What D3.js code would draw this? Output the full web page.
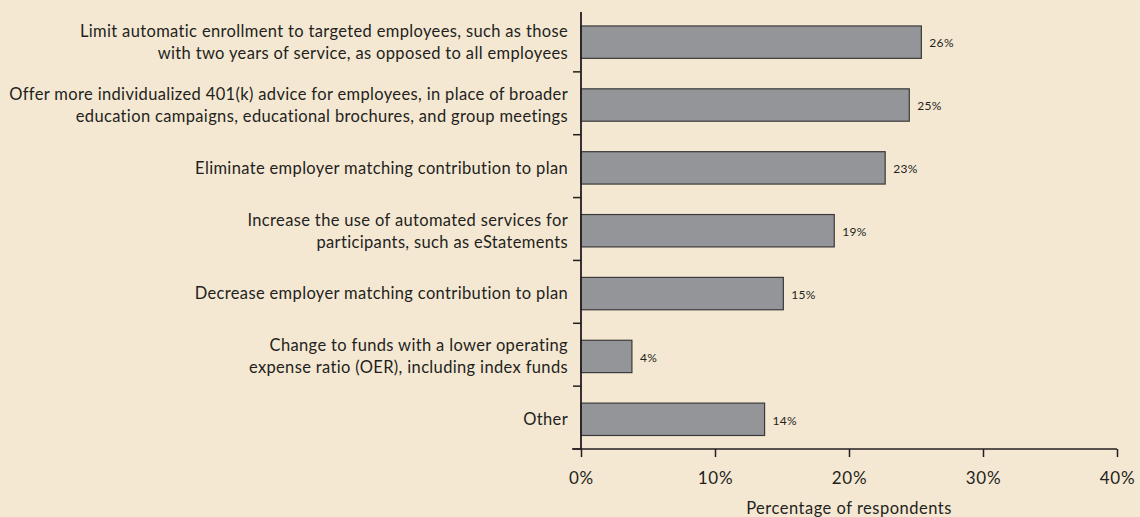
<!DOCTYPE html>
<html>
<head>
<meta charset="utf-8">
<script src="https://cdn.jsdelivr.net/npm/d3@7"></script>
<style>
  html, body { margin: 0; padding: 0; background: #f5e8d3; }
  svg { display: block; }
  text { font-family: Lato, "Open Sans", sans-serif; fill: #231f20; }
</style>
</head>
<body>
<svg id="chart" width="1140" height="517"></svg>
<script>
// Categories (each entry is the list of label lines)
const categories = [
  ["Limit automatic enrollment to targeted employees, such as those", "with two years of service, as opposed to all employees"],
  ["Offer more individualized 401(k) advice for employees, in place of broader", "education campaigns, educational brochures, and group meetings"],
  ["Eliminate employer matching contribution to plan"],
  ["Increase the use of automated services for", "participants, such as eStatements"],
  ["Decrease employer matching contribution to plan"],
  ["Change to funds with a lower operating", "expense ratio (OER), including index funds"],
  ["Other"]
];
// Bar lengths as read against the axis (percent)
const values = [25.4, 24.5, 22.7, 18.9, 15.1, 3.8, 13.7];
// Printed value labels
const valueLabels = ["26%", "25%", "23%", "19%", "15%", "4%", "14%"];
// Axis
const xTicks = [0, 10, 20, 30, 40];
const xTitle = "Percentage of respondents";

const svg = d3.select("#chart");
const W = 1140, H = 517;
svg.append("rect").attr("width", W).attr("height", H).attr("fill", "#f5e8d3");

const x = d3.scaleLinear().domain([0, 40]).range([581, 1117]);
const idx = d3.range(categories.length);
const y = d3.scaleBand().domain(idx).range([9, 449]).paddingInner(0).paddingOuter(0);
const bw = y.bandwidth();
const barOff = bw * 0.27, barH = bw * 0.515;

// Bars
svg.append("g").selectAll("rect").data(idx).join("rect")
  .attr("x", x(0))
  .attr("y", i => y(i) + barOff)
  .attr("width", i => x(values[i]) - x(0))
  .attr("height", barH)
  .attr("fill", "#939598")
  .attr("stroke", "#3a3a3a")
  .attr("stroke-width", 1.2);

// Value labels
svg.append("g").selectAll("text").data(idx).join("text")
  .attr("x", i => x(values[i]) + 8)
  .attr("y", i => y(i) + barOff + barH / 2 + 1)
  .attr("dy", "0.35em")
  .attr("font-size", 12)
  .attr("letter-spacing", "0.3px")
  .text(i => valueLabels[i]);

// Category labels
const lineH = 22;
const catG = svg.append("g");
idx.forEach(i => {
  const lines = categories[i];
  const cy = y(i) + barOff + barH / 2;
  const t = catG.append("text")
    .attr("text-anchor", "end")
    .attr("font-size", 16.5)
    .attr("letter-spacing", "0.35px");
  lines.forEach((ln, k) => {
    t.append("tspan")
      .attr("x", 568)
      .attr("y", cy + (k - (lines.length - 1) / 2) * lineH)
      .attr("dy", "0.35em")
      .text(ln);
  });
});

// Y axis line and ticks at band boundaries
const yAxisG = svg.append("g");
yAxisG.append("line")
  .attr("x1", x(0)).attr("x2", x(0))
  .attr("y1", 12).attr("y2", 449)
  .attr("stroke", "#231f20").attr("stroke-width", 1.8);
yAxisG.selectAll("line.tk").data(idx).join("line")
  .attr("class", "tk")
  .attr("x1", x(0) - 8).attr("x2", x(0))
  .attr("y1", i => y(i) + bw).attr("y2", i => y(i) + bw)
  .attr("stroke", "#231f20").attr("stroke-width", 1.5);

// X axis
const xAxis = d3.axisBottom(x).tickValues(xTicks).tickFormat(d => d + "%").tickSize(8).tickSizeOuter(0).tickPadding(15);
const xg = svg.append("g").attr("transform", "translate(0,449)").call(xAxis);
xg.select(".domain").attr("stroke", "#231f20").attr("stroke-width", 1.6)
  .attr("d", `M${x(0) - 9},0H${x(40)}`);
xg.selectAll(".tick line").attr("stroke", "#231f20").attr("stroke-width", 1.5);
xg.selectAll(".tick text").attr("font-size", 17).attr("letter-spacing", "0.8px")
  .attr("font-family", "Lato, 'Open Sans', sans-serif").attr("fill", "#231f20");

svg.append("text")
  .attr("x", (x(0) + x(40)) / 2)
  .attr("y", 514)
  .attr("text-anchor", "middle")
  .attr("font-size", 16.5)
  .attr("letter-spacing", "0.5px")
  .text(xTitle);
</script>
</body>
</html>
